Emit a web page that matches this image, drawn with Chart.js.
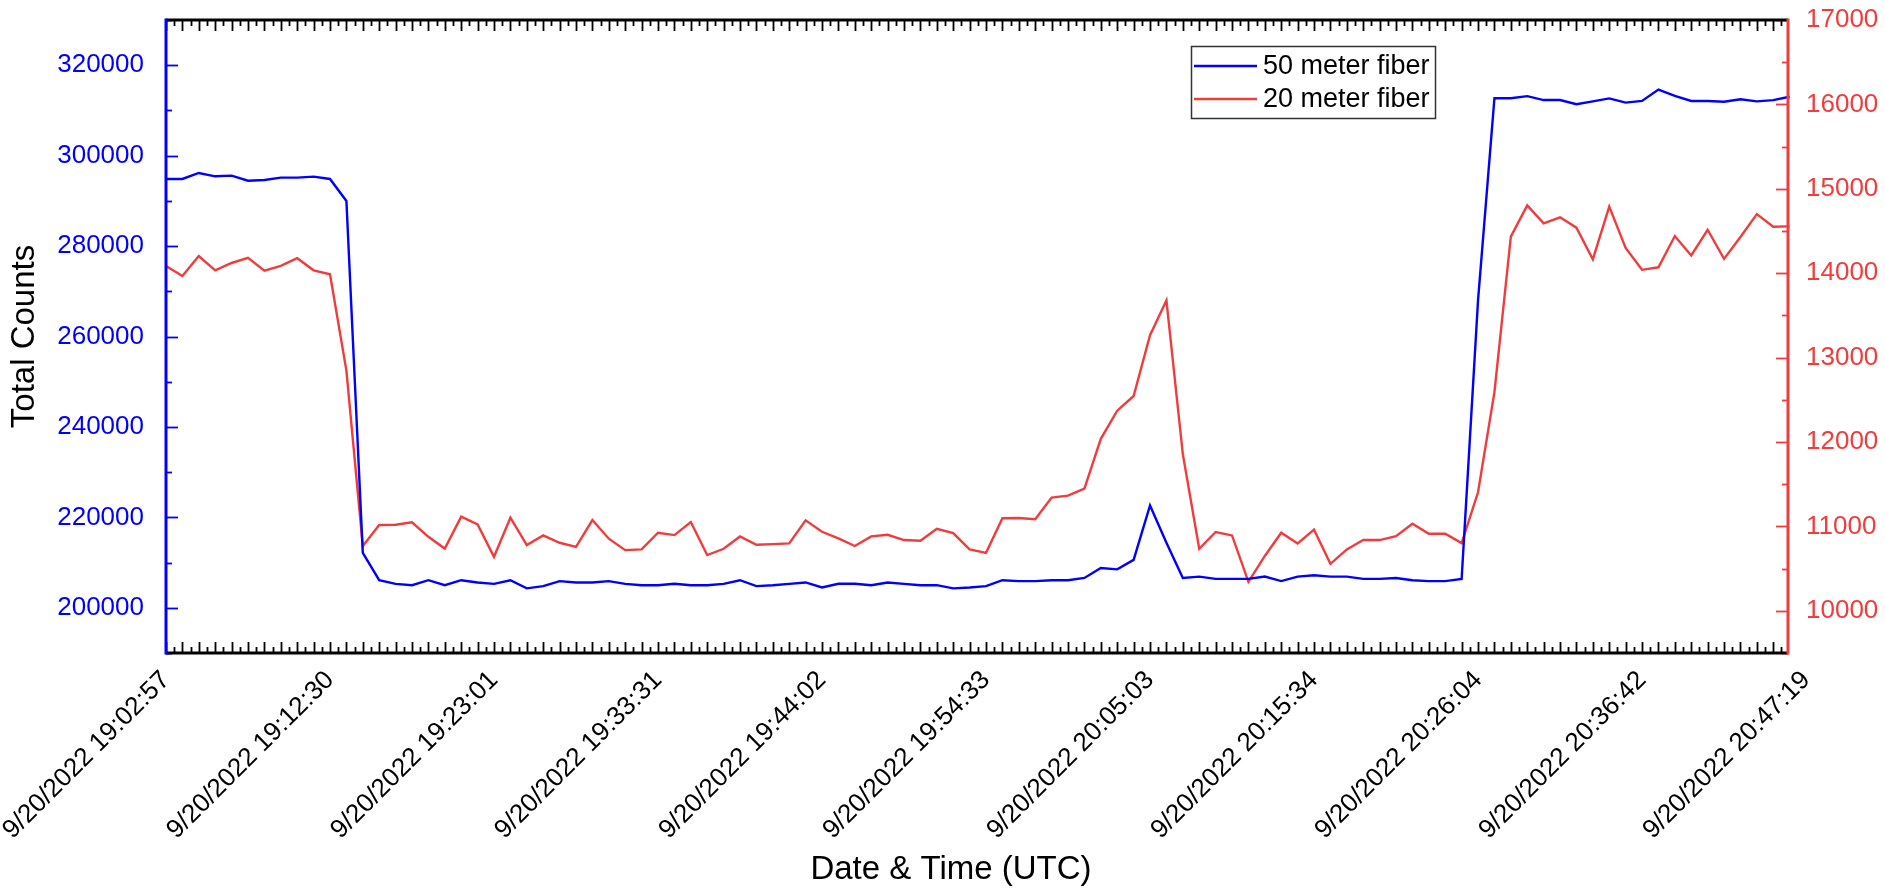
<!DOCTYPE html>
<html><head><meta charset="utf-8">
<script src="https://cdn.jsdelivr.net/npm/chart.js@4.4.0/dist/chart.umd.min.js"></script>
<style>html,body{margin:0;padding:0;background:#fff;overflow:hidden}canvas{display:block}</style>
</head><body>
<canvas id="c" width="1885" height="891" style="width:1885px;height:891px"></canvas>
<script>
// ---- data ----
const tickLabels = ['9/20/2022 19:02:57','9/20/2022 19:12:30','9/20/2022 19:23:01','9/20/2022 19:33:31','9/20/2022 19:44:02','9/20/2022 19:54:33','9/20/2022 20:05:03','9/20/2022 20:15:34','9/20/2022 20:26:04','9/20/2022 20:36:42','9/20/2022 20:47:19'];
const labelEvery = 10; // one time label every 10 samples
const seriesNames = ['50 meter fiber','20 meter fiber'];
const fiber50 = [
 294840,294840,296170,295430,295570,294460,294620,295130,295130,295350,
 294840,289970,212160,206100,205300,205000,206100,205000,206100,205600,
 205300,206100,204300,204800,205900,205600,205600,205900,205300,205000,
 205000,205300,205000,205000,205300,206100,204800,205000,205300,205600,
 204500,205300,205300,205000,205600,205300,205000,205000,204300,204500,
 204800,206100,205900,205900,206100,206100,206600,208800,208500,210600,
 222640,214400,206600,206900,206400,206400,206400,206900,205900,206900,
 207200,206900,206900,206400,206400,206600,206100,205900,205900,206400,
 268000,312700,312700,313160,312290,312290,311360,312000,312660,311720,
 312100,314620,313220,312100,312100,311920,312470,312000,312290,313020,
 313310];
const fiber20 = [
 14086,13967,14204,14034,14121,14181,14030,14086,14177,14034,
 13987,12846,10767,11016,11020,11048,10877,10737,11115,11024,
 10640,11103,10778,10893,10806,10758,11075,10854,10719,10727,
 10925,10897,11052,10660,10735,10881,10782,10790,10798,11072,
 10936,10858,10768,10882,10901,10838,10830,10972,10921,10727,
 10687,11096,11100,11084,11341,11364,11447,12038,12371,12545,
 13266,13678,11856,10735,10934,10893,10343,10650,10925,10798,
 10961,10557,10727,10838,10838,10885,11032,10913,10913,10802,
 11404,12590,14434,14803,14590,14662,14540,14165,14790,14300,
 14040,14070,14440,14210,14515,14170,14430,14700,14550,14555,
 14570];
const leftTicks = [200000,220000,240000,260000,280000,300000,320000];
const rightTicks = [10000,11000,12000,13000,14000,15000,16000,17000];

// ---- style ----
const BLUE = '#0000FF', RED = '#F03C3C';
const FONT = "'Liberation Sans', Arial, sans-serif";
const W = 1885, H = 891;
const AREA = {left:166, right:1788, top:20, bottom:653};
const X_MAX = 98.9;
const tickIdx = tickLabels.map((_, k) => k * labelEvery);
const noPad = s => { s.paddingTop = 0; s.paddingBottom = 0; s.paddingLeft = 0; s.paddingRight = 0; };

const framePlugin = {
  id: 'frame',
  afterDraw(chart) {
    const c = chart.ctx, a = chart.chartArea;
    const xs = chart.scales.x, yl = chart.scales.y, yr = chart.scales.y2;
    c.save();
    c.lineCap = 'butt';
    // x ticks (inward), bottom and top
    c.strokeStyle = '#000'; c.lineWidth = 1.8;
    for (let v = 0; v <= X_MAX + 1e-6; v += 0.5) {
      const px = Math.round(xs.getPixelForValue(v)) + 0.5;
      const len = (v % 1 === 0) ? 11 : 6;
      c.beginPath();
      c.moveTo(px, a.bottom); c.lineTo(px, a.bottom - len);
      c.moveTo(px, a.top); c.lineTo(px, a.top + len);
      c.stroke();
    }
    // left ticks
    c.strokeStyle = BLUE; c.lineWidth = 1.8;
    for (let v = 190000; v <= 330000; v += 10000) {
      const py = Math.round(yl.getPixelForValue(v)) + 0.5;
      const len = (v % 20000 === 0) ? 12 : 6;
      c.beginPath(); c.moveTo(a.left, py); c.lineTo(a.left + len, py); c.stroke();
    }
    // right ticks
    c.strokeStyle = RED;
    for (let v = 9500; v <= 17000; v += 500) {
      const py = Math.round(yr.getPixelForValue(v)) + 0.5;
      const len = (v % 1000 === 0) ? 12 : 6;
      c.beginPath(); c.moveTo(a.right, py); c.lineTo(a.right - len, py); c.stroke();
    }
    // axis lines
    c.lineWidth = 3;
    c.strokeStyle = '#000';
    c.beginPath(); c.moveTo(a.left, a.top); c.lineTo(a.right, a.top); c.stroke();
    c.beginPath(); c.moveTo(a.left, a.bottom); c.lineTo(a.right, a.bottom); c.stroke();
    c.strokeStyle = BLUE;
    c.beginPath(); c.moveTo(a.left, a.top - 1.5); c.lineTo(a.left, a.bottom + 1.5); c.stroke();
    c.strokeStyle = RED;
    c.beginPath(); c.moveTo(a.right, a.top - 1.5); c.lineTo(a.right, a.bottom + 1.5); c.stroke();
    // x axis title
    c.fillStyle = '#000';
    c.font = "33px " + FONT;
    c.textAlign = 'center'; c.textBaseline = 'middle';
    c.fillText('Date & Time (UTC)', 951, 870);
    // legend
    const ds = chart.data.datasets;
    c.lineWidth = 1.5; c.strokeStyle = '#333';
    c.strokeRect(1191.5, 46.5, 244, 72);
    c.font = "27px " + FONT; c.textAlign = 'left'; c.textBaseline = 'middle';
    ds.forEach((d, i) => {
      const y = 66 + i * 33;
      c.strokeStyle = d.borderColor; c.lineWidth = 2.4;
      c.beginPath(); c.moveTo(1194, y); c.lineTo(1257, y); c.stroke();
      c.fillStyle = '#000';
      c.fillText(d.label, 1263, y + 1);
    });
    c.restore();
  }
};

new Chart(document.getElementById('c'), {
  type: 'line',
  data: {
    datasets: [
      {label: seriesNames[0], data: fiber50.map((v, i) => ({x: i, y: v})), yAxisID: 'y',
       borderColor: BLUE, borderWidth: 2.4, pointRadius: 0, tension: 0, clip: false},
      {label: seriesNames[1], data: fiber20.map((v, i) => ({x: i, y: v})), yAxisID: 'y2',
       borderColor: RED, borderWidth: 2.4, pointRadius: 0, tension: 0, clip: false}
    ]
  },
  options: {
    responsive: false, animation: false, devicePixelRatio: 1,
    layout: {padding: {top: AREA.top, left: 0, right: 0, bottom: 0}},
    plugins: {legend: {display: false}, tooltip: {enabled: false}, title: {display: false}},
    scales: {
      x: {
        type: 'linear', min: 0, max: X_MAX,
        grid: {display: false, drawTicks: false}, border: {display: false},
        afterBuildTicks: s => { s.ticks = tickIdx.map(v => ({value: v})); },
        afterFit: s => { s.height = H - AREA.bottom; noPad(s); },
        ticks: {autoSkip: false, minRotation: 45, maxRotation: 45, padding: 12, color: '#000',
          font: {family: FONT, size: 26},
          callback: v => { const k = tickIdx.indexOf(v); return k >= 0 ? tickLabels[k] : ''; }}
      },
      y: {
        position: 'left', min: 190000, max: 330000,
        grid: {display: false, drawTicks: false}, border: {display: false},
        afterBuildTicks: s => { s.ticks = leftTicks.map(v => ({value: v})); },
        afterFit: s => { s.width = AREA.left; noPad(s); },
        ticks: {color: BLUE, padding: 22, font: {family: FONT, size: 26}, callback: v => String(v)},
        title: {display: true, text: 'Total Counts', color: '#000', padding: {top: 5, bottom: 0},
          font: {family: FONT, size: 33}}
      },
      y2: {
        position: 'right', min: 9500, max: 17000,
        grid: {display: false, drawTicks: false}, border: {display: false},
        afterBuildTicks: s => { s.ticks = rightTicks.map(v => ({value: v})); },
        afterFit: s => { s.width = W - AREA.right; noPad(s); },
        ticks: {color: RED, padding: 18, font: {family: FONT, size: 26}, callback: v => String(v)}
      }
    }
  },
  plugins: [framePlugin]
});
</script>
</body></html>
